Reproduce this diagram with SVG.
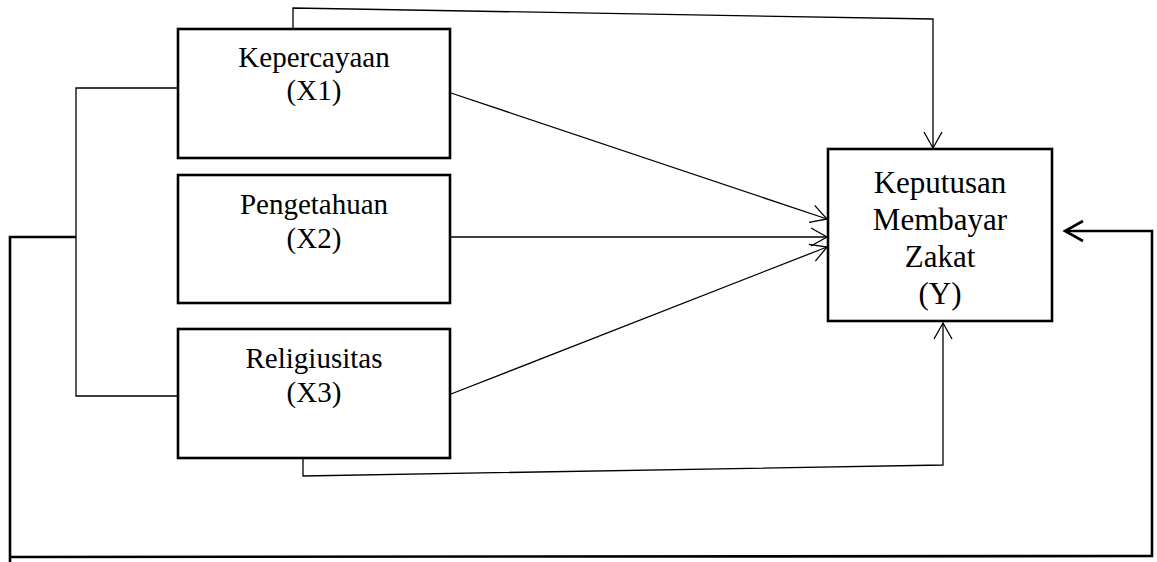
<svg xmlns="http://www.w3.org/2000/svg" width="1157" height="562" viewBox="0 0 1157 562">
  <style>
    .box { fill: #ffffff; stroke: #000000; stroke-width: 2.6; }
    .lbl { font-family: "Liberation Serif", "Times New Roman", serif; font-size: 29px; fill: #000000; text-anchor: middle; }
    .lblY { font-size: 31px; }
    .thin { fill: none; stroke: #000000; stroke-width: 1.3; }
    .thick { fill: none; stroke: #000000; stroke-width: 2.6; }
  </style>
  <defs>
    <marker id="arr" markerUnits="userSpaceOnUse" markerWidth="30" markerHeight="30" viewBox="-20 -15 30 30" refX="0" refY="0" orient="auto">
      <path d="M -16 -9 L 0 0 L -16 9" fill="none" stroke="#000" stroke-width="1.3"/>
    </marker>
    <marker id="arrB" markerUnits="userSpaceOnUse" markerWidth="30" markerHeight="30" viewBox="-20 -15 30 30" refX="0" refY="0" orient="auto">
      <path d="M -18 -10 L 0 0 L -18 10" fill="none" stroke="#000" stroke-width="2.6"/>
    </marker>
  </defs>
  <rect width="1157" height="562" fill="#ffffff"/>

  <g id="connectors">
    <polyline class="thin" points="293,29 293,8 933,19 933,148" marker-end="url(#arr)"/>
    <line class="thin" x1="451" y1="93" x2="827" y2="219" marker-end="url(#arr)"/>
    <line class="thin" x1="451" y1="237" x2="827" y2="237" marker-end="url(#arr)"/>
    <line class="thin" x1="451" y1="394" x2="827" y2="247" marker-end="url(#arr)"/>
    <polyline class="thin" points="303,459 303,476 943,465 943,323" marker-end="url(#arr)"/>
    <polyline class="thin" points="178,88 76,88 76,396 178,396"/>
    <polyline class="thick" points="76,237 10,237 10,562"/>
    <polyline class="thick" points="10,557 1152,556 1152,231 1065,231" marker-end="url(#arrB)"/>
  </g>

  <g id="x1">
    <rect class="box" x="178" y="29" width="272" height="129"/>
    <text class="lbl" x="314" y="67">Kepercayaan</text>
    <text class="lbl" x="314" y="100">(X1)</text>
  </g>
  <g id="x2">
    <rect class="box" x="178" y="175" width="272" height="128"/>
    <text class="lbl" x="314" y="214">Pengetahuan</text>
    <text class="lbl" x="314" y="248">(X2)</text>
  </g>
  <g id="x3">
    <rect class="box" x="178" y="329" width="272" height="129"/>
    <text class="lbl" x="314" y="368">Religiusitas</text>
    <text class="lbl" x="314" y="402">(X3)</text>
  </g>
  <g id="y">
    <rect class="box" x="828" y="149" width="224" height="172"/>
    <text class="lbl lblY" x="940" y="193">Keputusan</text>
    <text class="lbl lblY" x="940" y="230">Membayar</text>
    <text class="lbl lblY" x="940" y="267">Zakat</text>
    <text class="lbl lblY" x="940" y="304">(Y)</text>
  </g>
</svg>
